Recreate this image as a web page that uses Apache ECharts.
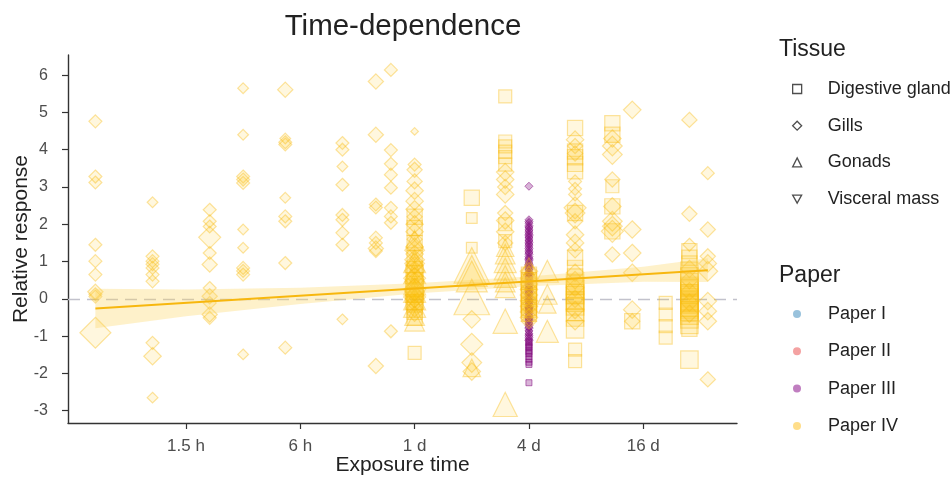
<!DOCTYPE html>
<html><head><meta charset="utf-8">
<script src="https://cdn.jsdelivr.net/npm/echarts@6/dist/echarts.min.js"></script>
<style>html,body{margin:0;padding:0;background:#fff}#c{width:952px;height:478px}</style>
</head><body><div id="c"></div>
<script>
// ---- axis ticks ----
const tickHours = [1.5, 6, 24, 96, 384];
const tickLabels = ['1.5 h', '6 h', '1 d', '4 d', '16 d'];
const yTicks = [-3, -2, -1, 0, 1, 2, 3, 4, 5, 6];
const tissues = ['Digestive gland', 'Gills', 'Gonads', 'Visceral mass'];
const papers = ['Paper I', 'Paper II', 'Paper III', 'Paper IV'];

// ---- data: [exposure hours, relative response, weight] ----
const gillsIV = [
  [0.5,4.76,2],[0.5,3.28,2],[0.5,3.12,2],[0.5,1.45,2],[0.5,1.01,2],[0.5,0.65,2],[0.5,0.19,2.5],[0.5,0.12,2],[0.5,0.06,2],[0.5,-0.91,6],
  [1,2.59,1.5],[1,1.14,2],[1,1.01,2],[1,0.93,2],[1,0.83,2],[1,0.65,2],[1,0.47,2],[1,-1.18,2],[1,-1.54,3],[1,-2.65,1.5],
  [2,2.39,2],[2,2.08,2],[2,1.94,2],[2,1.65,4],[2,1.23,2],[2,0.92,2.5],[2,0.29,2],[2,0.07,2.5],[2,-0.11,2],[2,-0.42,2.5],[2,-0.51,2],
  [3,5.65,1.5],[3,4.40,1.5],[3,3.28,2],[3,3.2,2],[3,3.11,2],[3,1.86,1.5],[3,1.37,1.5],[3,0.83,2],[3,0.75,2],[3,0.65,2],[3,-1.49,1.5],
  [5,5.61,2.5],[5,4.3,1.5],[5,4.2,2],[5,4.14,2],[5,2.71,1.5],[5,2.21,2],[5,2.08,2],[5,0.96,2],[5,-1.31,2],
  [10,4.18,2],[10,4.0,2],[10,3.55,1.5],[10,3.06,2],[10,2.25,2],[10,2.12,2],[10,1.77,2],[10,1.45,2],[10,-0.55,1.5],
  [15,5.83,2.5],[15,4.4,2.5],[15,2.53,2],[15,2.45,2],[15,1.64,2],[15,1.5,2],[15,1.35,2.5],[15,1.28,2],[15,-1.8,2.5],
  [18,6.14,2],[18,3.99,2],[18,3.62,2],[18,3.33,2],[18,2.98,2],[18,2.44,2],[18,2.21,2],[18,2.04,2],[18,-0.87,2],
  [24,4.49,0.8],[24,3.6,2],[24,3.46,2.5],[24,3.15,2.5],[24,2.9,3],[24,2.62,3],[24,2.4,3],[24,2.2,2.5],[24,2.0,3],[24,1.8,3],[24,1.6,2.5],[24,1.4,3],[24,1.2,3],[24,1.05,3.5],[24,0.9,3],[24,0.75,3.5],[24,0.6,3],[24,0.45,3.5],[24,0.32,3],[24,0.2,3.5],[24,0.1,3],[24,0.0,3],[24,-0.1,3],[24,-0.25,3],[24,-0.4,2.5],
  [24,1.3,3.5],[24,0.95,3.5],[24,0.55,4],[24,0.25,4],[24,0.05,4],
  [48,-0.55,3],[48,-1.22,4],[48,-1.71,3.5],[48,-1.95,3],
  [72,3.4,3],[72,3.2,3],[72,3.0,2.5],[72,2.8,3],[72,2.3,2.5],[72,2.1,3],[72,1.8,3],[72,1.5,2.5],
  [96,0.74,3],[96,0.55,3],[96,0.4,3],[96,0.25,3],[96,0.1,3],[96,-0.05,3],[96,-0.2,3],[96,-0.35,3],[96,-0.5,3],[96,-0.6,2.5],
  [168,4.27,3],[168,4.1,2.5],[168,3.9,2.5],[168,3.15,2],[168,2.95,2],[168,2.8,2],[168,2.44,4],[168,2.3,3.5],[168,2.08,2.5],[168,1.72,3],[168,1.5,3],[168,1.3,2.5],[168,0.7,3],[168,0.5,3],[168,0.3,3],[168,0.0,3],[168,-0.3,3],[168,-0.6,3],
  [264,4.3,3],[264,4.1,3.5],[264,3.87,3.5],[264,3.2,2.5],[264,2.48,3],[264,2.08,3.5],[264,1.95,3.5],[264,1.81,4],[264,1.19,2.5],
  [336,5.07,3],[336,1.86,3],[336,1.23,3],[336,0.7,3],[336,-0.29,3],[336,-0.6,2.5],
  [672,4.8,2.5],[672,2.28,2.5],[672,1.45,2],[672,0.8,3],[672,0.5,3],[672,0.2,3],[672,-0.1,3],[672,-0.4,3],
  [840,3.37,2],[840,1.86,2.5],[840,1.14,2.5],[840,0.95,3],[840,0.74,3.5],[840,-0.06,3],[840,-0.33,3],[840,-0.6,3],[840,-2.16,2.5]
];
const glandIV = [
  [24,2.2,2.5],[24,1.9,2.5],[24,1.5,2.5],[24,1.1,2.5],[24,0.8,2.5],[24,0.5,2.5],[24,0.3,3],[24,0.1,2.5],[24,-0.15,2.5],[24,-0.35,2.5],[24,-0.5,2.5],[24,-1.45,2],
  [24,0.65,3],[24,0.15,3],[24,-0.05,3],
  [48,2.71,2.5],[48,2.17,1.5],[48,1.37,1.5],
  [72,5.43,2],[72,4.22,2],[72,4.09,2],[72,3.95,2],[72,3.8,2],[72,3.6,2],[72,2.0,2],[72,1.55,2],
  [96,0.65,2.5],[96,0.5,2.5],[96,0.35,2.5],[96,0.2,2.5],[96,0.05,2.5],[96,-0.1,2.5],[96,-0.25,2.5],[96,-0.4,2.5],
  [96,0.45,2.5],[96,0.15,2.5],[96,-0.15,2.5],[96,-0.3,2.5],
  [168,4.58,2.5],[168,3.95,2.5],[168,3.8,2.5],[168,3.62,2.5],[168,3.42,2.5],[168,2.3,2.5],[168,1.1,2.5],[168,0.83,2.5],[168,0.6,2.5],[168,0.42,3],[168,0.25,3],[168,0.1,3],[168,-0.05,3],[168,-0.2,3],[168,-0.35,3],[168,-0.5,3],[168,-0.82,3],[168,-1.36,2],[168,-1.67,2],
  [168,0.35,3],[168,0.15,3],[168,-0.1,3],
  [264,4.71,2.5],[264,4.4,2.5],[264,3.02,2],[264,2.48,2.5],[264,1.81,2.5],
  [336,-0.6,2.5],
  [504,-0.11,2],[504,-0.42,2],[504,-0.73,2],[504,-1.04,2],
  [672,1.28,2.5],[672,1.1,2.5],[672,0.95,2.5],[672,0.75,3],[672,0.6,3],[672,0.45,3],[672,0.35,3],[672,0.25,3],[672,0.15,3],[672,0.05,3],[672,-0.05,3],[672,-0.15,3],[672,-0.25,3],[672,-0.35,3],[672,-0.45,3],[672,-0.55,3],[672,-0.7,3],[672,-0.8,2.5],[672,-1.63,3],
  [672,0.3,3],[672,0.1,3],[672,-0.1,3],[672,-0.3,3]
];
const gonadsIV = [
  [24,1.6,3],[24,1.0,4],[24,0.7,4],[24,0.4,4],[24,0.2,4],[24,0.0,4],[24,-0.2,4],[24,-0.45,3.5],[24,-0.6,3.5],
  [48,0.9,7],[48,0.75,6],[48,0.6,6],[48,0.05,7],[48,-1.85,3],
  [72,1.37,3],[72,1.2,3.5],[72,1.0,4],[72,0.8,4],[72,0.6,4],[72,0.45,3.5],[72,0.3,3.5],[72,-0.6,4.5],[72,-2.83,4.5],
  [96,0.9,2.5],[96,0.7,2.5],
  [120,0.74,4],[120,0.12,3.5],[120,-0.15,3],[120,-0.87,4]
];
const gillsIII = [
  [96,3.02,0.9],[96,2.12,0.9],[96,2.07,0.9],[96,2.03,0.9],[96,1.97,0.9],[96,1.93,0.9],[96,1.9,0.9],[96,1.85,0.9],[96,1.82,0.9],[96,1.77,0.9],
  [96,1.73,0.9],[96,1.7,0.9],[96,1.66,0.9],[96,1.63,0.9],[96,1.58,0.9],[96,1.55,0.9],[96,1.51,0.9],[96,1.47,0.9],[96,1.44,0.9],[96,1.39,0.9],
  [96,1.35,0.9],[96,1.31,0.9],[96,1.26,0.9],[96,1.23,0.9],[96,1.19,0.9],[96,1.13,0.9],[96,1.09,0.9],[96,1.06,0.9],[96,1.02,0.9],[96,0.96,0.9],
  [96,0.92,0.9],[96,0.89,0.9],[96,0.85,0.9],[96,0.81,0.9],[96,0.78,0.9],[96,0.71,0.9],[96,0.68,0.9],[96,0.66,0.9],[96,0.6,0.9],[96,0.57,0.9],
  [96,0.53,0.9],[96,0.47,0.9],[96,0.42,0.9],[96,0.38,0.9],[96,0.35,0.9],[96,0.29,0.9],[96,0.23,0.9],[96,0.19,0.9],[96,0.16,0.9],[96,0.11,0.9],
  [96,0.04,0.9],[96,-0.02,0.9],[96,-0.06,0.9],[96,-0.09,0.9],[96,-0.14,0.9],[96,-0.21,0.9],[96,-0.24,0.9],[96,-0.27,0.9],[96,-0.33,0.9],[96,-0.4,0.9],
  [96,-0.46,0.9],[96,-0.51,0.9],[96,-0.55,0.9],[96,-0.58,0.9],[96,-0.65,0.9],[96,-0.71,0.9],[96,-0.76,0.9],[96,-0.79,0.9],[96,-0.86,0.9],[96,-0.94,0.9],
  [96,-0.99,0.9],[96,-1.03,0.9],[96,-1.08,0.9],[96,-1.12,0.9]
];
const glandIII = [
  [96,-0.3,0.45],[96,-0.62,0.45],[96,-0.9,0.45],[96,-1.15,0.45],[96,-1.18,0.45],[96,-1.24,0.45],[96,-1.28,0.45],[96,-1.31,0.45],[96,-1.39,0.45],[96,-1.43,0.45],[96,-1.47,0.45],[96,-1.55,0.45],
  [96,-1.62,0.45],[96,-1.7,0.45],[96,-1.76,0.45],[96,-2.25,0.45]
];
// linear fit (in log exposure time) and its confidence band
const fitHours = [0.5, 840];
const fitValues = [-0.26, 0.77];
const bandHours = [0.5, 1.5, 6, 24, 96, 384, 840];
const bandLow = [-0.79, -0.47, -0.14, 0.14, 0.34, 0.46, 0.45];
const bandHigh = [0.27, 0.25, 0.30, 0.42, 0.60, 0.86, 1.09];

// ---- build ----
const FONT = "'Liberation Sans', Arial, sans-serif";
const toU = h => Math.log(h / 1.5) / Math.log(4);
const tickU = tickHours.map(toU);
const tissueSymbol = {'Digestive gland':'rect','Gills':'diamond','Gonads':'triangle','Visceral mass':'path://M0,0L10,0L5,9Z'};
const paperColor = {'Paper I':'rgba(95,160,200,0.8)','Paper II':'rgba(238,110,110,0.8)','Paper III':'rgba(150,40,150,0.75)','Paper IV':'rgba(255,200,60,0.75)'};
const sizeOf = v => 4 + 4.5 * v[2];
const conv = arr => arr.map(d => [toU(d[0]), d[1], d[2]]);
const YEL = {color:'rgba(255,193,10,0.17)', borderColor:'rgba(248,188,20,0.5)', borderWidth:1.2};
const PUR = {color:'rgba(135,20,130,0.4)', borderColor:'rgba(135,20,130,0.7)', borderWidth:1};

function pts(name, arr, symbol, style, z) {
  return {type:'scatter', name, data:conv(arr), symbol, symbolSize:sizeOf, itemStyle:style, z, silent:true,
          emphasis:{disabled:true}};
}

const series = [];
tissues.concat(papers).forEach(n => series.push({type:'scatter', name:n, data:[]}));
const purple = pts('III gills', gillsIII, 'diamond', PUR, 2);
purple.markLine = {silent:true, symbol:'none', label:{show:false}, z:1,
  lineStyle:{color:'#c2c2cc', type:[12,7], width:1.4}, data:[{yAxis:0}]};
series.push(purple);
series.push(pts('III gland', glandIII, 'rect', PUR, 2));
series.push(pts('IV gonads', gonadsIV, 'triangle', YEL, 3));
series.push(pts('IV gland', glandIV, 'rect', YEL, 3));
series.push(pts('IV gills', gillsIV, 'diamond', YEL, 3));
series.push({type:'custom', z:4, silent:true, data:[[0,0]], renderItem:(p, api) => {
  const poly = [];
  bandHours.forEach((h,i) => poly.push(api.coord([toU(h), bandHigh[i]])));
  for (let i = bandHours.length-1; i >= 0; i--) poly.push(api.coord([toU(bandHours[i]), bandLow[i]]));
  return {type:'polygon', shape:{points:poly}, style:{fill:'rgba(253,212,95,0.33)'}};
}});
series.push({type:'line', z:5, silent:true, symbol:'none', data:fitHours.map((h,i)=>[toU(h), fitValues[i]]),
  lineStyle:{color:'#f7b70e', width:2}});

const txt = {fontFamily:FONT, color:'#222'};
const option = {
  animation:false,
  backgroundColor:'#fff',
  title:[
    {text:'Time-dependence', left:398, top:7, textAlign:'center', textStyle:Object.assign({fontSize:29.5, fontWeight:'normal'}, txt)},
    {text:'Tissue', left:774, top:33, textStyle:Object.assign({fontSize:23, fontWeight:'normal'}, txt)},
    {text:'Paper', left:774, top:259, textStyle:Object.assign({fontSize:23, fontWeight:'normal'}, txt)}
  ],
  grid:{left:68, right:215, top:55, bottom:55, outerBoundsMode:'none', containLabel:false},
  xAxis:{type:'value', min:-1.032, max:4.82,
    name:'Exposure time', nameLocation:'middle', nameGap:32, nameMoveOverlap:false, nameTextStyle:Object.assign({fontSize:21}, txt),
    axisLine:{onZero:false, lineStyle:{color:'#333', width:1.4}},
    axisTick:{show:true, length:6, lineStyle:{color:'#333', width:1.2}, customValues:tickU},
    axisLabel:{customValues:tickU, margin:15, fontFamily:FONT, fontSize:17, color:'#4d4d4d',
      formatter:v => { const i = tickU.findIndex(t => Math.abs(t - v) < 1e-6); return i >= 0 ? tickLabels[i] : ''; }},
    splitLine:{show:false}},
  yAxis:{type:'value', min:-3.33, max:6.54,
    name:'Relative response', nameLocation:'middle', nameGap:36, nameMoveOverlap:false, nameTextStyle:Object.assign({fontSize:21}, txt),
    axisLine:{show:true, onZero:false, lineStyle:{color:'#333', width:1.4}},
    axisTick:{show:true, length:6, lineStyle:{color:'#333', width:1.2}, customValues:yTicks},
    axisLabel:{customValues:yTicks, margin:20, fontFamily:FONT, fontSize:16, color:'#4d4d4d'},
    splitLine:{show:false}},
  legend:[
    {orient:'vertical', left:787, top:74, itemWidth:9, itemHeight:9, itemGap:16.7, selectedMode:false,
     data:tissues.map(t => ({name:t, icon:tissueSymbol[t], itemStyle:{color:'#fff', borderColor:'#222', borderWidth:1.3}})),
     textStyle:Object.assign({fontSize:18, lineHeight:20, padding:[0,0,0,21]}, txt)},
    {orient:'vertical', left:788, top:299, itemWidth:8, itemHeight:8, itemGap:17.3, selectedMode:false,
     data:papers.map(p => ({name:p, icon:'circle', itemStyle:{color:paperColor[p], borderWidth:0}})),
     textStyle:Object.assign({fontSize:18, lineHeight:20, padding:[0,0,0,22]}, txt)}
  ],
  series
};
const chart = echarts.init(document.getElementById('c'));
chart.setOption(option);
</script></body></html>
